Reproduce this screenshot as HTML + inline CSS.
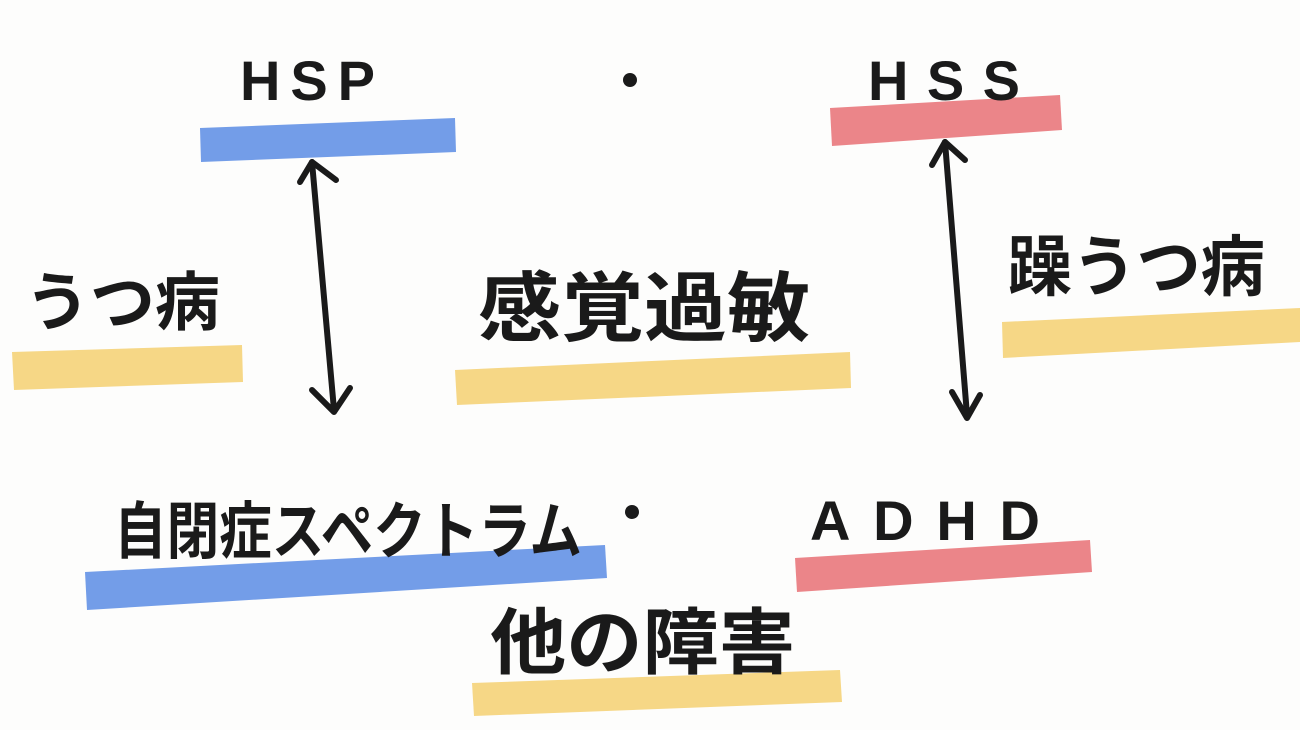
<!DOCTYPE html>
<html><head><meta charset="utf-8"><style>
html,body{margin:0;padding:0;background:#fdfdfc}
svg{display:block}
text{font-family:"Liberation Sans","Noto Sans CJK JP",sans-serif;fill:#1a1a1a;font-weight:bold}
</style></head><body>
<svg width="1300" height="730" viewBox="0 0 1300 730" xmlns="http://www.w3.org/2000/svg">
<rect width="1300" height="730" fill="#fdfdfc"/>
<polygon points="200,128 455,118 456,152 201,162" fill="#739de8"/>
<polygon points="830,108 1060,95 1062,130 832,146" fill="#eb8589"/>
<polygon points="12,352 242,345 243,382 14,390" fill="#f6d786"/>
<polygon points="455,370 850,352 851,388 457,405" fill="#f6d786"/>
<polygon points="1002,322 1300,308 1300,342 1003,358" fill="#f6d786"/>
<polygon points="85,572 605,545 607,578 87,610" fill="#739de8"/>
<polygon points="795,558 1090,540 1092,572 797,592" fill="#eb8589"/>
<polygon points="472,683 840,670 842,702 474,716" fill="#f6d786"/>
<g stroke="#1a1a1a" stroke-width="6" fill="none" stroke-linecap="round" stroke-linejoin="round">
<path d="M312,162 L334,410"/>
<path d="M300,182 L312,162 L336,180"/>
<path d="M312,390 L334,412 L350,388"/>
<path d="M945,142 L967,415"/>
<path d="M932,165 L945,142 L965,160"/>
<path d="M952,392 L967,418 L980,395"/>
</g>
<circle cx="630" cy="80" r="7" fill="#1a1a1a"/>
<circle cx="632" cy="512" r="7" fill="#1a1a1a"/>
<text x="240" y="100" font-size="56" font-weight="normal" textLength="135" lengthAdjust="spacing">HSP</text>
<text x="868" y="100" font-size="56" font-weight="normal" textLength="152" lengthAdjust="spacing">HSS</text>
<text x="25" y="325" font-size="64" textLength="195" lengthAdjust="spacingAndGlyphs">うつ病</text>
<text x="478" y="335" font-size="76" textLength="332" lengthAdjust="spacingAndGlyphs">感覚過敏</text>
<text x="1008" y="290" font-size="66" textLength="257" lengthAdjust="spacingAndGlyphs">躁うつ病</text>
<text x="114" y="553" font-size="62" textLength="468" lengthAdjust="spacingAndGlyphs">自閉症スペクトラム</text>
<text x="810" y="540" font-size="56" font-weight="normal" textLength="230" lengthAdjust="spacing">ADHD</text>
<text x="490" y="668" font-size="72" textLength="305" lengthAdjust="spacingAndGlyphs">他の障害</text>
</svg>
</body></html>
